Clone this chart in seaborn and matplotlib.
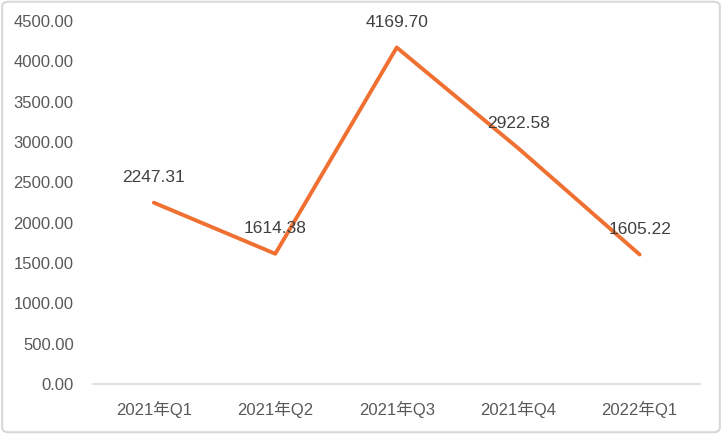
import pandas as pd
import matplotlib.pyplot as plt
import seaborn as sns
from matplotlib.patches import FancyBboxPatch

# quarterly values
quarters = ['2021年Q1', '2021年Q2', '2021年Q3', '2021年Q4', '2022年Q1']
values = [2247.31, 1614.38, 4169.70, 2922.58, 1605.22]
y_ticks = [0, 500, 1000, 1500, 2000, 2500, 3000, 3500, 4000, 4500]

df = pd.DataFrame({'quarter': quarters, 'value': values})

sns.set_style('white')
plt.rcParams['font.family'] = ['Liberation Sans', 'Noto Sans CJK SC', 'DejaVu Sans']

fig = plt.figure(figsize=(7.22, 4.34), dpi=100)
ax = fig.add_axes([0.129, 0.115, 0.841, 0.837])

sns.lineplot(data=df, x='quarter', y='value', color='#EF7030', linewidth=2.8,
             sort=False, ax=ax)

for i, v in enumerate(values):
    ax.annotate(f'{v:.2f}', (i, v), xytext=(0, 18), textcoords='offset points',
                ha='center', va='center', fontsize=12.5, color='#404040')

ax.set_xlim(-0.5, len(quarters) - 0.5)
ax.set_ylim(0, 4500)
ax.set_yticks(y_ticks)
ax.set_yticklabels([f'{t:.2f}' for t in y_ticks])
ax.set_xlabel('')
ax.set_ylabel('')
ax.tick_params(axis='y', length=0, pad=14, labelsize=12, labelcolor='#595959')
ax.tick_params(axis='x', length=0, pad=12, labelsize=12, labelcolor='#595959')

for s in ['top', 'right', 'left']:
    ax.spines[s].set_visible(False)
ax.spines['bottom'].set_color('#D9D9D9')
ax.spines['bottom'].set_linewidth(1.2)

# light chart border
border = FancyBboxPatch((0.003, 0.004), 0.994, 0.992, boxstyle='round,pad=0,rounding_size=0.01',
                        transform=fig.transFigure, fill=False, edgecolor='#D9D9D9', linewidth=1.5)
fig.patches.append(border)

fig.savefig('out.png', dpi=100)
